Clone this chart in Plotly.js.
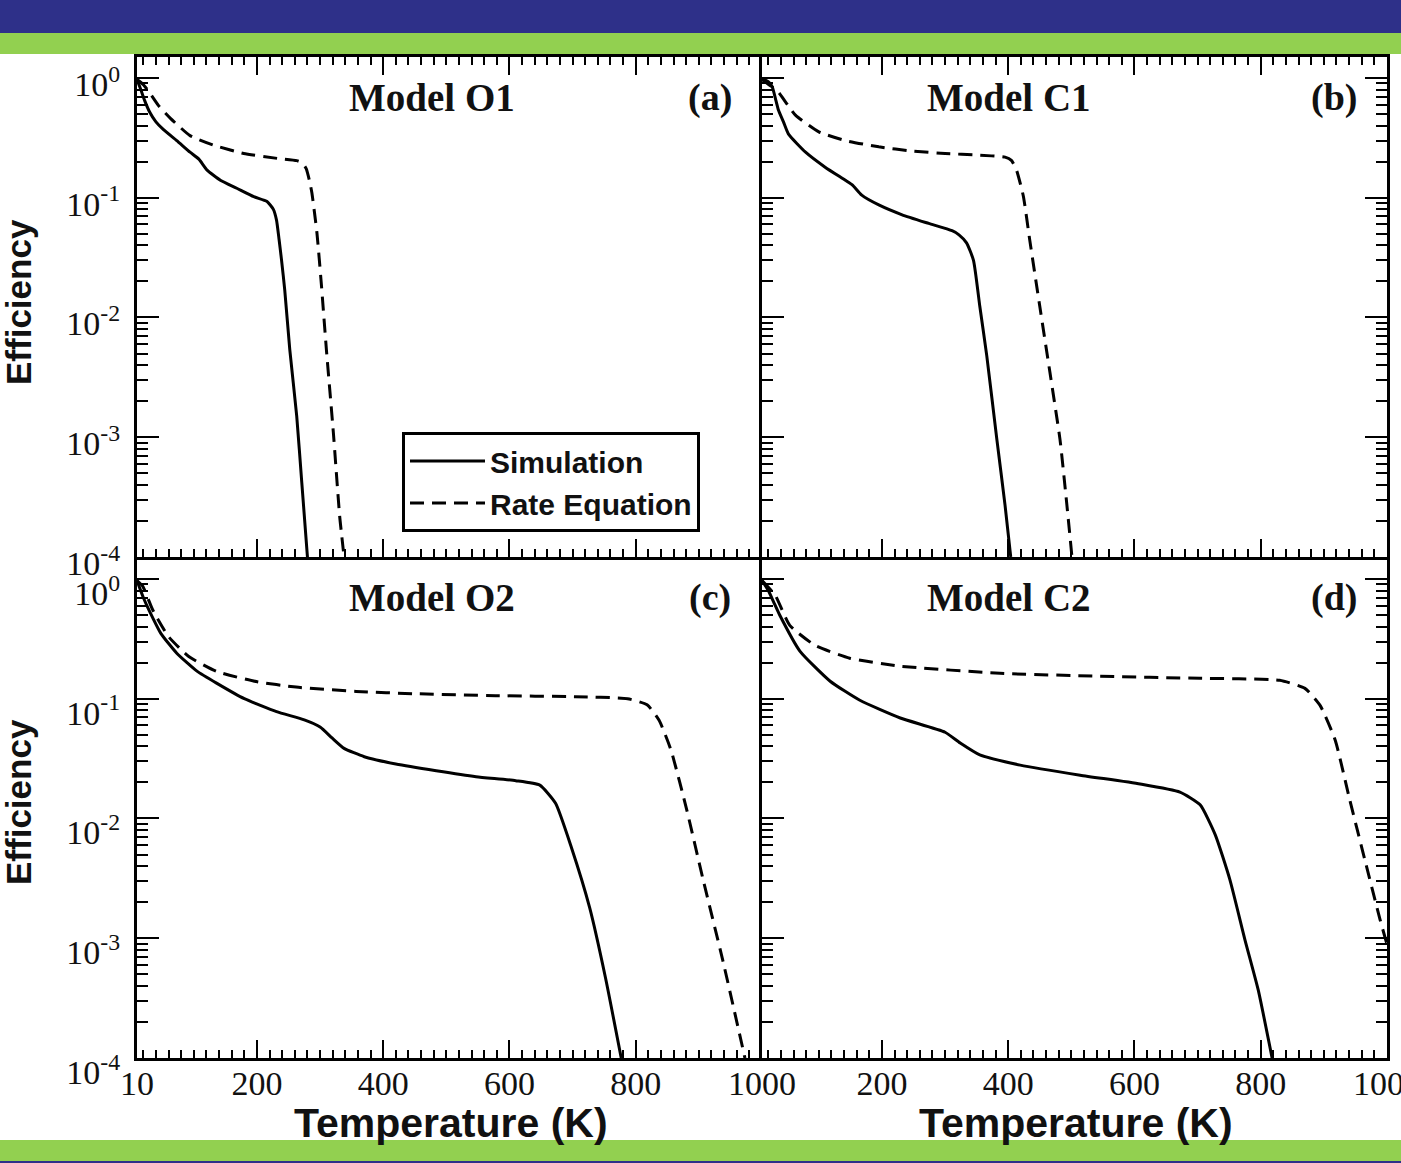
<!DOCTYPE html>
<html>
<head>
<meta charset="utf-8">
<script src="https://cdn.plot.ly/plotly-3.0.1.min.js"></script>
<style>html,body{margin:0;padding:0;background:#fff;}#chart{width:1401px;height:1163px;}</style>
</head>
<body>
<div id="chart"></div>
<script>
// ---- Data (Temperature in K, efficiency) ----
const seriesNames = ["Simulation", "Rate Equation"];
const panelTitles = ["Model O1", "Model C1", "Model O2", "Model C2"];
const panelLetters = ["(a)", "(b)", "(c)", "(d)"];

const tempO1Sim = [10, 16, 22, 30, 40, 52, 73, 94, 108, 121, 142, 168, 195, 216, 226, 231, 235, 239, 244, 252, 263, 271, 280];
const effO1Sim  = [0.97, 0.8, 0.65, 0.52, 0.43, 0.37, 0.30, 0.24, 0.21, 0.17, 0.14, 0.12, 0.102, 0.093, 0.08, 0.065, 0.045, 0.03, 0.017, 0.0054, 0.0015, 0.00042, 0.0001];
const tempO1Rate = [10, 20, 31, 45, 63, 94, 131, 179, 232, 263, 272, 278, 283, 287, 295, 302, 310, 321, 331, 338];
const effO1Rate  = [0.97, 0.88, 0.74, 0.58, 0.46, 0.33, 0.275, 0.234, 0.213, 0.204, 0.195, 0.175, 0.14, 0.11, 0.051, 0.019, 0.0054, 0.0011, 0.00022, 0.0001];

const tempC1Sim = [10, 20, 26, 32, 36, 44, 52, 79, 110, 142, 153, 168, 195, 232, 274, 311, 322, 334, 345, 355, 366, 382, 395, 404];
const effC1Sim  = [0.98, 0.93, 0.85, 0.65, 0.54, 0.43, 0.34, 0.24, 0.18, 0.14, 0.128, 0.105, 0.087, 0.072, 0.061, 0.053, 0.049, 0.042, 0.030, 0.0124, 0.0048, 0.00096, 0.00027, 0.0001];
const tempC1Rate = [10, 25, 36, 63, 100, 142, 195, 248, 300, 353, 395, 405, 413, 424, 434, 450, 466, 482, 493, 501];
const effC1Rate  = [0.97, 0.85, 0.76, 0.49, 0.355, 0.30, 0.266, 0.245, 0.234, 0.227, 0.218, 0.205, 0.171, 0.103, 0.0447, 0.0124, 0.0035, 0.00096, 0.00027, 0.0001];

const tempO2Sim = [10, 20, 29, 48, 73, 105, 136, 180, 231, 275, 300, 319, 338, 370, 420, 484, 547, 610, 648, 673, 698, 727, 752, 777];
const effO2Sim  = [0.97, 0.7, 0.55, 0.35, 0.24, 0.17, 0.135, 0.10, 0.078, 0.0665, 0.058, 0.047, 0.0385, 0.0328, 0.0285, 0.025, 0.0223, 0.0207, 0.019, 0.0134, 0.00575, 0.0018, 0.00047, 0.0001];
const tempO2Rate = [10, 19, 35, 60, 92, 136, 199, 262, 357, 452, 578, 704, 787, 818, 837, 856, 881, 906, 938, 973];
const effO2Rate  = [0.97, 0.87, 0.55, 0.33, 0.225, 0.169, 0.139, 0.125, 0.115, 0.11, 0.106, 0.104, 0.10, 0.089, 0.066, 0.037, 0.0117, 0.0032, 0.00065, 0.0001];

const tempC2Sim = [10, 20, 28, 38, 70, 118, 165, 229, 300, 324, 355, 419, 514, 609, 672, 704, 728, 751, 775, 796, 818];
const effC2Sim  = [0.97, 0.8, 0.65, 0.50, 0.25, 0.14, 0.097, 0.069, 0.0525, 0.0426, 0.0339, 0.0279, 0.023, 0.0194, 0.0166, 0.013, 0.0073, 0.0031, 0.00097, 0.00037, 0.0001];
const tempC2Rate = [10, 31, 54, 94, 149, 229, 387, 545, 704, 830, 870, 894, 918, 941, 965, 989, 1000];
const effC2Rate  = [0.97, 0.73, 0.41, 0.279, 0.218, 0.187, 0.163, 0.154, 0.148, 0.1426, 0.122, 0.088, 0.045, 0.0143, 0.0045, 0.00143, 0.00089];

const xTickValsLeft = [10, 200, 400, 600, 800, 1000];
const xTickValsRight = [200, 400, 600, 800, 1000];
const yTickVals = [1e-4, 1e-3, 1e-2, 1e-1, 1];
const yTickText = ["10<sup>-4</sup>", "10<sup>-3</sup>", "10<sup>-2</sup>", "10<sup>-1</sup>", "10<sup>0</sup>"];

// ---- Layout geometry (pixels of the 1401x1163 page) ----
const W = 1401, H = 1163;
const px = v => v / W;
const py = v => 1 - v / H;

const ink = "#111111";
const serif = "Liberation Serif, Times New Roman, serif";
const sans = "Liberation Sans, Arial, sans-serif";

const panels = [
  {tx: tempO1Sim, ty: effO1Sim, rx: tempO1Rate, ry: effO1Rate, xa: "x", ya: "y"},
  {tx: tempC1Sim, ty: effC1Sim, rx: tempC1Rate, ry: effC1Rate, xa: "x2", ya: "y2"},
  {tx: tempO2Sim, ty: effO2Sim, rx: tempO2Rate, ry: effO2Rate, xa: "x3", ya: "y3"},
  {tx: tempC2Sim, ty: effC2Sim, rx: tempC2Rate, ry: effC2Rate, xa: "x4", ya: "y4"}
];

const traces = [];
panels.forEach((p, i) => {
  traces.push({x: p.tx, y: p.ty, xaxis: p.xa, yaxis: p.ya, type: "scatter", mode: "lines",
    name: seriesNames[0], showlegend: i === 0, line: {color: "#000", width: 3, shape: "spline", smoothing: 0.5}, hoverinfo: "skip"});
  traces.push({x: p.rx, y: p.ry, xaxis: p.xa, yaxis: p.ya, type: "scatter", mode: "lines",
    name: seriesNames[1], showlegend: i === 0, line: {color: "#000", width: 3, dash: "14px,8px", shape: "spline", smoothing: 0.5}, hoverinfo: "skip"});
});

function xAxis(domain, anchor, isLeft, isBottom) {
  const tv = isLeft ? xTickValsLeft : xTickValsRight;
  return {
    domain: domain, anchor: anchor, range: [10, 1000], type: "linear",
    showline: true, linecolor: "#000", linewidth: 3,
    mirror: isBottom ? false : "allticks",
    ticks: "inside", ticklen: 18, tickwidth: 2, tickcolor: "#000",
    tickmode: "array", tickvals: tv, ticktext: tv.map(String),
    showticklabels: isBottom, ticklabeloverflow: "allow", ticklabelstandoff: -7,
    tickfont: {family: serif, size: 34, color: ink},
    minor: {ticks: "inside", ticklen: 8, tickwidth: 2, tickcolor: "#000", dtick: 20, tick0: 0, showgrid: false},
    showgrid: false, zeroline: false, fixedrange: true
  };
}
function yAxis(domain, anchor, isLeft, shift) {
  return {
    domain: domain, anchor: anchor, type: "log", range: [-4, 0.175],
    showline: true, linecolor: "#000", linewidth: 3,
    mirror: isLeft ? false : "allticks",
    ticks: "inside", ticklen: 22, tickwidth: 2, tickcolor: "#000",
    tickmode: "array", tickvals: yTickVals, ticktext: yTickText,
    showticklabels: isLeft, ticklabelstandoff: 7, ticklabelshift: shift,
    tickfont: {family: serif, size: 34, color: ink},
    minor: {ticks: "inside", ticklen: 11, tickwidth: 2, tickcolor: "#000", dtick: "D1", showgrid: false},
    showgrid: false, zeroline: false, fixedrange: true
  };
}

const xL = [px(137), px(762)], xR = [px(762), px(1387)];
const yT = [py(557), py(57)], yB = [py(1058), py(558)];

const annotations = [];
const titleX = [432, 1009, 432, 1009], letterX = [710, 1334, 710, 1334], titleY = [97, 97, 597, 597];
panelTitles.forEach((t, i) => {
  annotations.push({text: t, x: px(titleX[i]), y: py(titleY[i]), xref: "paper", yref: "paper",
    xanchor: "center", yanchor: "middle", showarrow: false,
    font: {family: serif, size: 39, color: ink, weight: 700}});
  annotations.push({text: panelLetters[i], x: px(letterX[i]), y: py(titleY[i]), xref: "paper", yref: "paper",
    xanchor: "center", yanchor: "middle", showarrow: false,
    font: {family: serif, size: 38, color: ink, weight: 700}});
});
[302, 802].forEach(yy => annotations.push({text: "Efficiency", textangle: -90, x: px(18), y: py(yy),
  xref: "paper", yref: "paper", xanchor: "center", yanchor: "middle", showarrow: false,
  font: {family: sans, size: 35, color: ink, weight: 700}}));
[451, 1076].forEach(xx => annotations.push({text: "Temperature (K)", x: px(xx), y: py(1123),
  xref: "paper", yref: "paper", xanchor: "center", yanchor: "middle", showarrow: false,
  font: {family: sans, size: 41, color: ink, weight: 700}}));

const blue = "#2E3089", green = "#92D050";
const shapes = [
  {type: "rect", xref: "paper", yref: "paper", x0: 0, x1: 1, y0: py(33), y1: 1, fillcolor: blue, line: {width: 0}, layer: "below"},
  {type: "rect", xref: "paper", yref: "paper", x0: 0, x1: 1, y0: py(54), y1: py(33), fillcolor: green, line: {width: 0}, layer: "below"},
  {type: "rect", xref: "paper", yref: "paper", x0: 0, x1: 1, y0: py(1161), y1: py(1140), fillcolor: green, line: {width: 0}, layer: "below"},
  {type: "rect", xref: "paper", yref: "paper", x0: 0, x1: 1, y0: 0, y1: py(1161), fillcolor: blue, line: {width: 0}, layer: "below"}
];

const layout = {
  width: W, height: H, margin: {l: 0, r: 0, t: 0, b: 0},
  paper_bgcolor: "#fff", plot_bgcolor: "#fff",
  showlegend: true,
  legend: {x: px(402), y: py(432), xanchor: "left", yanchor: "top", xref: "paper", yref: "paper",
    bgcolor: "#fff", bordercolor: "#000", borderwidth: 3,
    font: {family: sans, size: 30, color: ink, weight: 700}, itemwidth: 75, tracegroupgap: 0},
  xaxis: xAxis(xL, "y", true, false), yaxis: yAxis(yT, "x", true, 6),
  xaxis2: xAxis(xR, "y2", false, false), yaxis2: yAxis(yT, "x2", false, 6),
  xaxis3: xAxis(xL, "y3", true, true), yaxis3: yAxis(yB, "x3", true, 14),
  xaxis4: xAxis(xR, "y4", false, true), yaxis4: yAxis(yB, "x4", false, 14),
  annotations: annotations, shapes: shapes
};

Plotly.newPlot("chart", traces, layout, {staticPlot: true, displayModeBar: false});
</script>
</body>
</html>
